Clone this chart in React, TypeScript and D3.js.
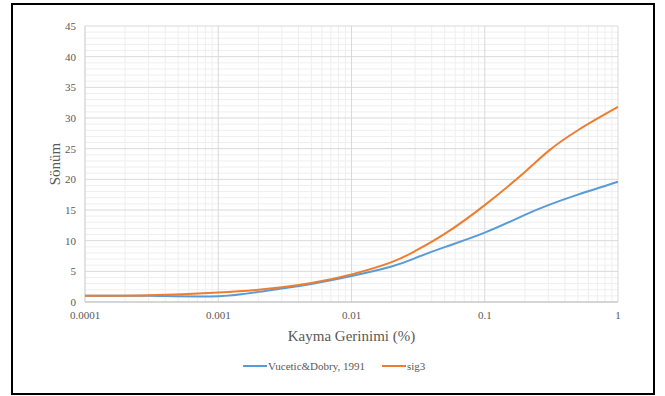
import React from 'react';
import * as d3 from 'd3';

// strain values (%), log x-axis
const strain = [0.0001, 0.0003, 0.001, 0.002, 0.003, 0.005, 0.01, 0.02, 0.03, 0.05, 0.1, 0.2, 0.3, 0.5, 1];
const vuceticDobry = [1.0, 1.0, 0.95, 1.65, 2.2, 2.95, 4.25, 5.8, 7.15, 8.95, 11.3, 14.2, 15.8, 17.5, 19.6];
const sig3 = [1.0, 1.1, 1.55, 2.0, 2.4, 3.1, 4.5, 6.5, 8.3, 11.1, 15.8, 21.2, 24.6, 28.0, 31.8];

const xTicks = [0.0001, 0.001, 0.01, 0.1, 1];
const yTicks = [0, 5, 10, 15, 20, 25, 30, 35, 40, 45];

const series = [
  { name: 'Vucetic&Dobry, 1991', values: vuceticDobry, color: '#5B9BD5' },
  { name: 'sig3', values: sig3, color: '#ED7D31' },
];

const W = 665;
const H = 396;
const margin = { left: 85, right: 47, top: 26, bottom: 94 };

export default function App() {
  const x = d3.scaleLog().domain([0.0001, 1]).range([margin.left, W - margin.right]);
  const y = d3.scaleLinear().domain([0, 45]).range([H - margin.bottom, margin.top]);

  // minor grid: 2..9 of each decade, and every 1 unit on y
  const minorX: number[] = [];
  for (let e = -4; e < 0; e++) {
    for (let k = 2; k <= 9; k++) minorX.push(k * Math.pow(10, e));
  }
  const minorY = d3.range(0, 46, 1).filter(v => v % 5 !== 0);

  const line = d3.line<[number, number]>()
    .x(d => x(d[0]))
    .y(d => y(d[1]))
    .curve(d3.curveNatural);

  const font = '"Liberation Serif", "Times New Roman", serif';
  const textColor = '#595959';

  return (
    <svg width={W} height={H} style={{ position: 'absolute', left: 0, top: 0, background: '#fff' }}>
      <rect x={12} y={4} width={642} height={390} fill="#fff" stroke="#000" strokeWidth={2} />

      {/* minor grid */}
      {minorX.map(v => (
        <line key={'mx' + v} x1={x(v)} x2={x(v)} y1={y(45)} y2={y(0)} stroke="#efefef" strokeWidth={1} />
      ))}
      {minorY.map(v => (
        <line key={'my' + v} x1={x(0.0001)} x2={x(1)} y1={y(v)} y2={y(v)} stroke="#efefef" strokeWidth={1} />
      ))}
      {/* major grid */}
      {xTicks.map(v => (
        <line key={'gx' + v} x1={x(v)} x2={x(v)} y1={y(45)} y2={y(0)} stroke="#d9d9d9" strokeWidth={1} />
      ))}
      {yTicks.map(v => (
        <line key={'gy' + v} x1={x(0.0001)} x2={x(1)} y1={y(v)} y2={y(v)} stroke="#d9d9d9" strokeWidth={1} />
      ))}

      {/* axis lines */}
      <line x1={x(0.0001)} x2={x(1)} y1={y(0)} y2={y(0)} stroke="#bfbfbf" />
      <line x1={x(0.0001)} x2={x(0.0001)} y1={y(0)} y2={y(45)} stroke="#d9d9d9" />

      {/* tick labels */}
      {yTicks.map(v => (
        <text key={'ty' + v} x={x(0.0001) - 9} y={y(v)} dy="0.35em" textAnchor="end"
          fontFamily={font} fontSize={11} fill={textColor}>{v}</text>
      ))}
      {xTicks.map(v => (
        <text key={'tx' + v} x={x(v)} y={y(0) + 17} textAnchor="middle"
          fontFamily={font} fontSize={11} fill={textColor}>{String(v)}</text>
      ))}

      {/* series */}
      {series.map(s => (
        <path key={s.name}
          d={line(strain.map((v, i) => [v, s.values[i]] as [number, number])) || ''}
          fill="none" stroke={s.color} strokeWidth={2} />
      ))}

      {/* axis titles */}
      <text x={(x(0.0001) + x(1)) / 2} y={341} textAnchor="middle" fontFamily={font} fontSize={15} fill={textColor}>
        Kayma Gerinimi (%)
      </text>
      <text transform={`translate(60, ${y(22.5)}) rotate(-90)`} textAnchor="middle" fontFamily={font} fontSize={15} fill={textColor}>
        Sönüm
      </text>

      {/* legend */}
      <line x1={243} x2={267} y1={366} y2={366} stroke={series[0].color} strokeWidth={2} />
      <text x={268} y={366} dy="0.35em" fontFamily={font} fontSize={11} fill={textColor}>{series[0].name}</text>
      <line x1={382} x2={406} y1={366} y2={366} stroke={series[1].color} strokeWidth={2} />
      <text x={407} y={366} dy="0.35em" fontFamily={font} fontSize={11} fill={textColor}>{series[1].name}</text>
    </svg>
  );
}
